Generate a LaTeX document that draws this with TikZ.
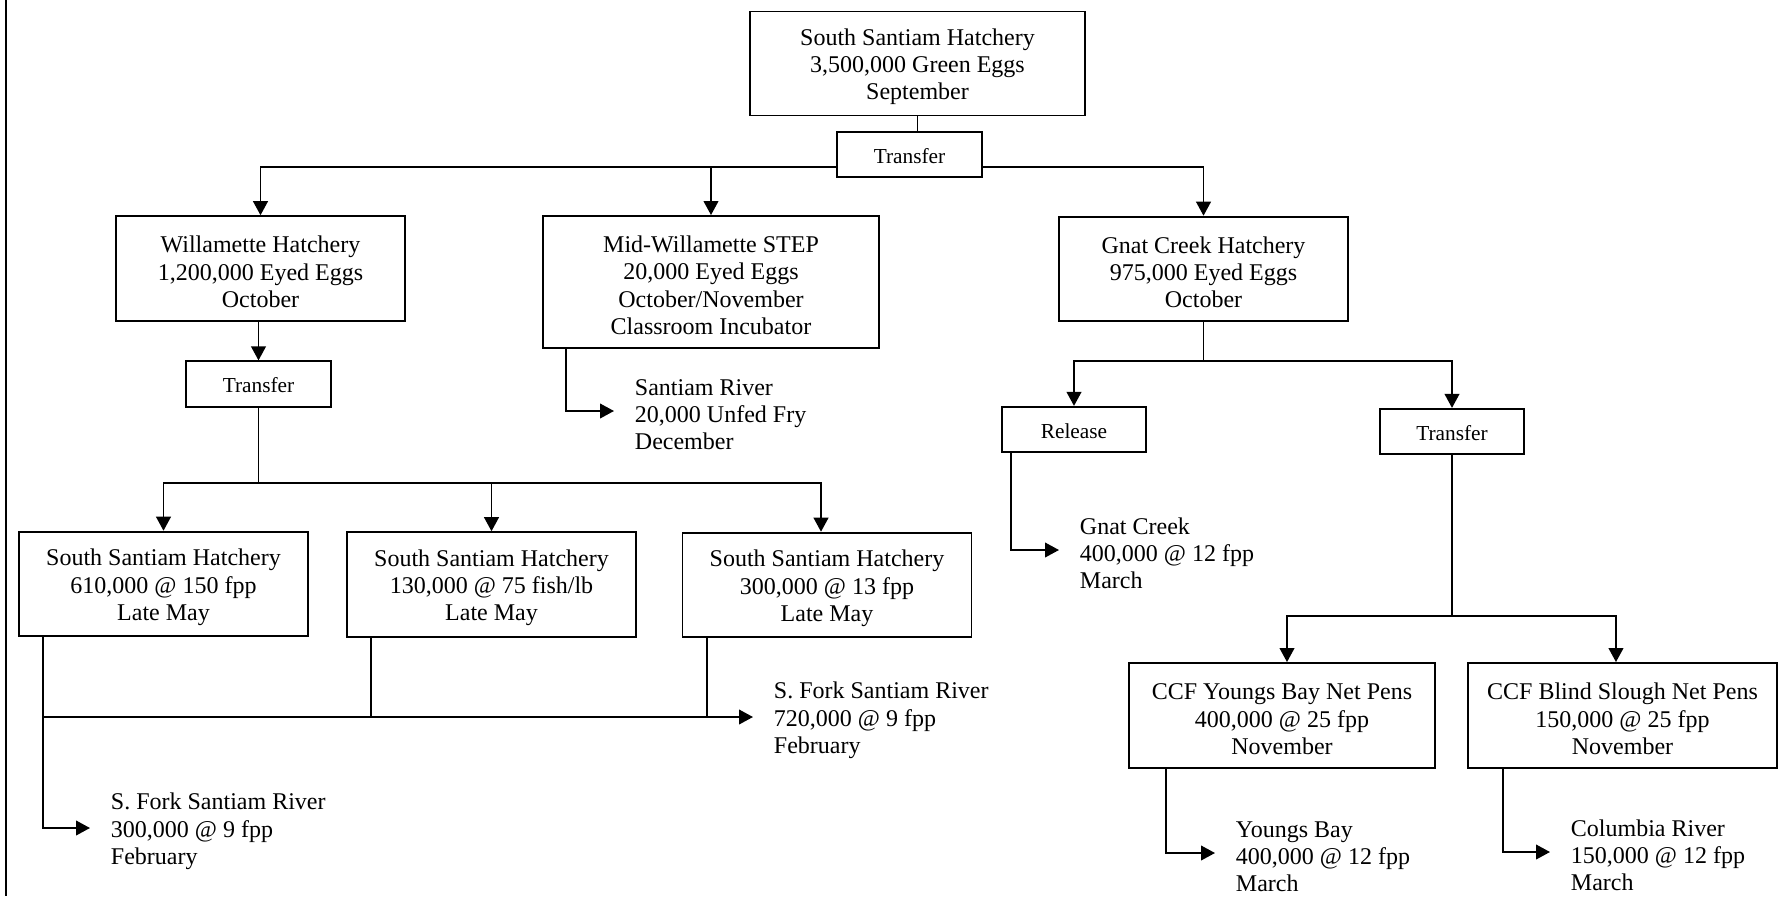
\documentclass[tikz,border=0pt]{standalone}
\usepackage{fontspec}
\setmainfont{Liberation Serif}
\usetikzlibrary{arrows.meta,positioning}

\newcommand{\boxstrut}{\rule{0pt}{17.5pt}}
\tikzset{
  box/.style={draw, fill=white, align=center, inner sep=0pt, font=\fontsize{18}{20.5}\selectfont},
  bigbox/.style={box, minimum width=216.75pt, minimum height=78.5pt},
  tbox/.style={box, minimum width=108.5pt, minimum height=34pt, font=\fontsize{16}{19}\selectfont,
    execute at begin node={\rule{0pt}{13.5pt}}},
  lbl/.style={anchor=west, align=left, inner xsep=15pt, inner ysep=0pt, font=\fontsize{18}{20.5}\selectfont},
  arr/.style={-{Triangle[length=10.5pt,width=11pt]}}
}

\begin{document}
\begin{tikzpicture}[x=0.75pt, y=-0.75pt, line width=1.4pt]
\useasboundingbox (0,0) rectangle (1781,896);
\draw (6,0) -- (6,896);

\node[box, minimum width=251.25pt, minimum height=78pt] (top) at (917.5,63.5) {\boxstrut South Santiam Hatchery\\3,500,000 Green Eggs\\September};
\node[tbox] (tr0) at (909.5,154.5) {Transfer};
\node[bigbox] (wil) at (260.5,268.5) {\boxstrut Willamette Hatchery\\1,200,000 Eyed Eggs\\October};
\node[box, minimum width=252pt, minimum height=99pt] (mid) at (711,282) {\boxstrut Mid-Willamette STEP\\20,000 Eyed Eggs\\October/November\\Classroom Incubator};
\node[bigbox] (gnat) at (1203.5,269) {\boxstrut Gnat Creek Hatchery\\975,000 Eyed Eggs\\October};
\node[tbox] (tr1) at (258.5,384) {Transfer};
\node[bigbox] (ss1) at (163.5,584) {\boxstrut South Santiam Hatchery\\610,000 @ 150 fpp\\Late May};
\node[bigbox] (ss2) at (491.5,584.5) {\boxstrut South Santiam Hatchery\\130,000 @ 75 fish/lb\\Late May};
\node[bigbox] (ss3) at (827,585) {\boxstrut South Santiam Hatchery\\300,000 @ 13 fpp\\Late May};
\node[tbox] (rel) at (1074,429.5) {Release};
\node[tbox] (tr2) at (1452,431.5) {Transfer};
\node[box, minimum width=229.5pt, minimum height=78.75pt] (ccf1) at (1282,715.5) {\boxstrut CCF Youngs Bay Net Pens\\400,000 @ 25 fpp\\November};
\node[box, minimum width=231.75pt, minimum height=78.75pt] (ccf2) at (1622.5,715.5) {\boxstrut CCF Blind Slough Net Pens\\150,000 @ 25 fpp\\November};

\node[lbl] (rv0) at (614,411) {\boxstrut Santiam River\\20,000 Unfed Fry\\December};
\node[lbl] (rv1) at (753,717) {\boxstrut S. Fork Santiam River\\720,000 @ 9 fpp\\February};
\node[lbl] (rv2) at (90,828) {\boxstrut S. Fork Santiam River\\300,000 @ 9 fpp\\February};
\node[lbl] (rv3) at (1059,550) {\boxstrut Gnat Creek\\400,000 @ 12 fpp\\March};
\node[lbl] (rv4) at (1215,853) {\boxstrut Youngs Bay\\400,000 @ 12 fpp\\March};
\node[lbl] (rv5) at (1550,852) {\boxstrut Columbia River\\150,000 @ 12 fpp\\March};

\coordinate (bus0) at (0,167);
\coordinate (bus1) at (0,483);
\coordinate (bus2) at (0,361);
\coordinate (bus3) at (0,616);
\coordinate (d0) at ([xshift=18pt]mid.south west);
\coordinate (d1) at ([xshift=18.75pt]ss1.south west);
\coordinate (d2) at ([xshift=18.75pt]ss2.south west);
\coordinate (d3) at ([xshift=18.75pt]ss3.south west);
\coordinate (d4) at ([xshift=7.5pt]rel.south west);
\coordinate (d5) at ([xshift=28.5pt]ccf1.south west);
\coordinate (d6) at ([xshift=27pt]ccf2.south west);

\draw (top.south) -- (top.south |- tr0.north);
\draw[arr] (tr0.west |- bus0) -| (wil);
\draw[arr] (tr0.west |- bus0) -| (mid);
\draw[arr] (tr0.east |- bus0) -| (gnat);

\draw[arr] (tr1 |- wil.south) -- (tr1.north);
\draw (tr1.south) -- (tr1 |- bus1);
\draw[arr] (tr1 |- bus1) -| (ss1);
\draw[arr] (tr1 |- bus1) -| (ss2);
\draw[arr] (tr1 |- bus1) -| ([xshift=-4.5pt]ss3.north);

\draw[arr] (d0) |- (rv0);
\draw[arr] (d1) |- (rv2);
\draw[arr] (d1 |- rv1) -- (rv1);
\draw (d2) -- (d2 |- rv1);
\draw (d3) -- (d3 |- rv1);

\draw (gnat.south) -- (gnat |- bus2);
\draw[arr] (gnat |- bus2) -| (rel);
\draw[arr] (gnat |- bus2) -| (tr2);
\draw[arr] (d4) |- (rv3);
\draw (tr2.south) -- (tr2 |- bus3);
\draw[arr] (tr2 |- bus3) -| ([xshift=3.75pt]ccf1.north);
\draw[arr] (tr2 |- bus3) -| ([xshift=-4.9pt]ccf2.north);
\draw[arr] (d5) |- (rv4);
\draw[arr] (d6) |- (rv5);
\end{tikzpicture}
\end{document}
